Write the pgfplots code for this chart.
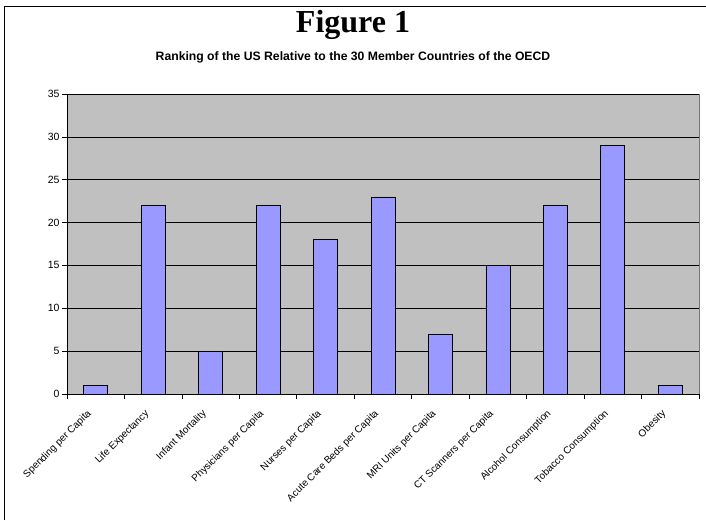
\documentclass[border=0pt]{standalone}
\usepackage{pgfplots}
\pgfplotsset{compat=1.18}
\usepackage{fontspec}
\setmainfont{Liberation Sans}
\newfontfamily\titlefont{Liberation Serif}
\definecolor{plotbg}{HTML}{C0C0C0}
\definecolor{barfill}{HTML}{9999FF}
\begin{document}
\begin{tikzpicture}[x=1pt,y=1pt]
% page and the frame round the chart (left and top edges)
\path[use as bounding box] (0,0) rectangle (706,520);
\draw[black, line width=1pt] (4.5,0) -- (4.5,513) -- (706,513);
\node[anchor=base, font=\titlefont\bfseries\fontsize{32}{36}\selectfont] at (353,487) {Figure 1};
\node[anchor=base, font=\bfseries\fontsize{12.2}{14}\selectfont] at (353,459) {Ranking of the US Relative to the 30 Member Countries of the OECD};
\begin{axis}[
  at={(67pt,126pt)}, anchor=south west,
  scale only axis, width=632pt, height=300pt,
  xmin=-0.5, xmax=10.5, ymin=0, ymax=35,
  ytick={0,5,...,35},
  xtick={0,...,10},
  xticklabels={Spending per Capita, Life Expectancy, Infant Mortality, Physicians per Capita, Nurses per Capita, Acute Care Beds per Capita, MRI Units per Capita, CT Scanners per Capita, Alcohol Consumption, Tobacco Consumption, Obesity},
  minor xtick={-0.5,0.5,...,10.5},
  major x tick style={draw=none},
  minor tick length=5pt, major tick length=5pt,
  tick align=outside,
  tick style={black, line width=0.7pt},
  axis x line*=bottom, axis y line*=left,
  axis line style={black, line width=0.9pt, -},
  axis background/.style={fill=plotbg, draw=gray!90!black, line width=1pt},
  ymajorgrids, grid style={black, line width=0.7pt},
  x tick label style={rotate=45, anchor=north east, font=\fontsize{10}{12}\selectfont, xshift=-10pt, yshift=3pt},
  y tick label style={font=\fontsize{10.5}{12}\selectfont, xshift=1pt},
  /pgf/number format/assume math mode=true,
  clip=false,
]
\addplot[ybar, bar width=24pt, fill=barfill, draw=black, line width=0.7pt]
  coordinates {(0,1) (1,22) (2,5) (3,22) (4,18) (5,23) (6,7) (7,15) (8,22) (9,29) (10,1)};
\end{axis}
\end{tikzpicture}
\end{document}
